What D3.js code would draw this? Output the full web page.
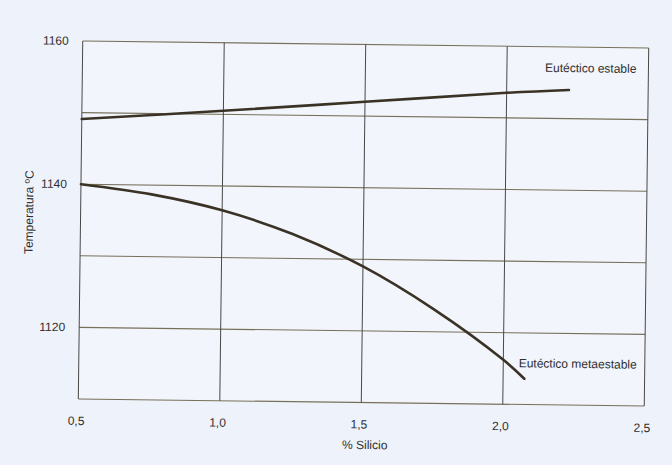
<!DOCTYPE html>
<html>
<head>
<meta charset="utf-8">
<script src="https://cdn.jsdelivr.net/npm/d3@7"></script>
<style>
  html, body { margin: 0; padding: 0; background: #eef2fa; }
  svg { display: block; }
  text { font-family: "Liberation Sans", Arial, sans-serif; fill: #2f2f2f; }
</style>
</head>
<body>
<div id="chart"></div>
<script>
// données
const xTicks = [0.5, 1.0, 1.5, 2.0, 2.5];
const xTickLabels = ["0,5", "1,0", "1,5", "2,0", "2,5"];
const yGrid = [1110, 1120, 1130, 1140, 1150, 1160];
const yTicks = [1120, 1140, 1160];
const yTickLabels = ["1120", "1140", "1160"];

const estableSi = [0.5, 1.0, 1.5, 2.0, 2.22];
const estableT = [1149.1, 1150.5, 1152.0, 1153.5, 1154.0];

const metaSi = [0.5, 0.75, 1.0, 1.25, 1.5, 1.75, 2.0, 2.075];
const metaT = [1140.0, 1138.7, 1136.6, 1133.4, 1129.0, 1123.2, 1116.2, 1113.6];

const seriesNames = ["Eutéctico estable", "Eutéctico metaestable"];

const width = 672;
const height = 465;
const margin = { top: 44.5, right: 25.5, bottom: 62.5, left: 80.5 };

const svg = d3.select("#chart")
  .append("svg")
  .attr("width", width)
  .attr("height", height);

// la figure scannée est légèrement tournée
const g = svg.append("g")
  .attr("transform", "rotate(0.71, 363.5, 223.5)");

const x = d3.scaleLinear()
  .domain([0.5, 2.5])
  .range([margin.left, width - margin.right]);

const y = d3.scaleLinear()
  .domain([1110, 1160])
  .range([height - margin.bottom, margin.top]);

// fond de la zone du graphique
g.append("rect")
  .attr("x", x(0.5))
  .attr("y", y(1160))
  .attr("width", x(2.5) - x(0.5))
  .attr("height", y(1110) - y(1160))
  .attr("fill", "#f2f5fc");

// grille horizontale
g.selectAll(".hgrid")
  .data(yGrid)
  .join("line")
  .attr("class", "hgrid")
  .attr("x1", x(0.5))
  .attr("x2", x(2.5))
  .attr("y1", d => y(d))
  .attr("y2", d => y(d))
  .attr("stroke", "#77705a")
  .attr("stroke-width", 1.1);

// grille verticale
g.selectAll(".vgrid")
  .data(xTicks)
  .join("line")
  .attr("class", "vgrid")
  .attr("x1", d => x(d))
  .attr("x2", d => x(d))
  .attr("y1", y(1160))
  .attr("y2", y(1110))
  .attr("stroke", "#4a4748")
  .attr("stroke-width", 1);

// étiquettes de l'axe X
g.selectAll(".xlab")
  .data(xTicks)
  .join("text")
  .attr("class", "xlab")
  .attr("x", (d, i) => x(d) - 2)
  .attr("y", y(1110) + 26)
  .attr("text-anchor", "middle")
  .attr("font-size", 12)
  .text((d, i) => xTickLabels[i]);

// étiquettes de l'axe Y
g.selectAll(".ylab")
  .data(yTicks)
  .join("text")
  .attr("class", "ylab")
  .attr("x", x(0.5) - 14)
  .attr("y", d => y(d) + 4)
  .attr("text-anchor", "end")
  .attr("font-size", 12)
  .text((d, i) => yTickLabels[i]);

// titres des axes
g.append("text")
  .attr("x", x(1.5) + 4)
  .attr("y", height - 16)
  .attr("text-anchor", "middle")
  .attr("font-size", 12)
  .text("% Silicio");

g.append("text")
  .attr("transform", `translate(33, ${y(1136)}) rotate(-90)`)
  .attr("text-anchor", "middle")
  .attr("font-size", 12)
  .text("Temperatura ºC");

// courbes
const line = d3.line()
  .x(d => x(d[0]))
  .y(d => y(d[1]))
  .curve(d3.curveCatmullRom);

const estable = estableSi.map((s, i) => [s, estableT[i]]);
const meta = metaSi.map((s, i) => [s, metaT[i]]);

[estable, meta].forEach(serie => {
  g.append("path")
    .datum(serie)
    .attr("fill", "none")
    .attr("stroke", "#3b3226")
    .attr("stroke-width", 2.6)
    .attr("stroke-linecap", "round")
    .attr("d", line);
});

// libellés des courbes
g.append("text")
  .attr("x", x(2.5) - 12)
  .attr("y", y(1156.5))
  .attr("text-anchor", "end")
  .attr("font-size", 12)
  .text(seriesNames[0]);

g.append("text")
  .attr("x", x(2.5) - 8)
  .attr("y", y(1115.2))
  .attr("text-anchor", "end")
  .attr("font-size", 12)
  .text(seriesNames[1]);
</script>
</body>
</html>
